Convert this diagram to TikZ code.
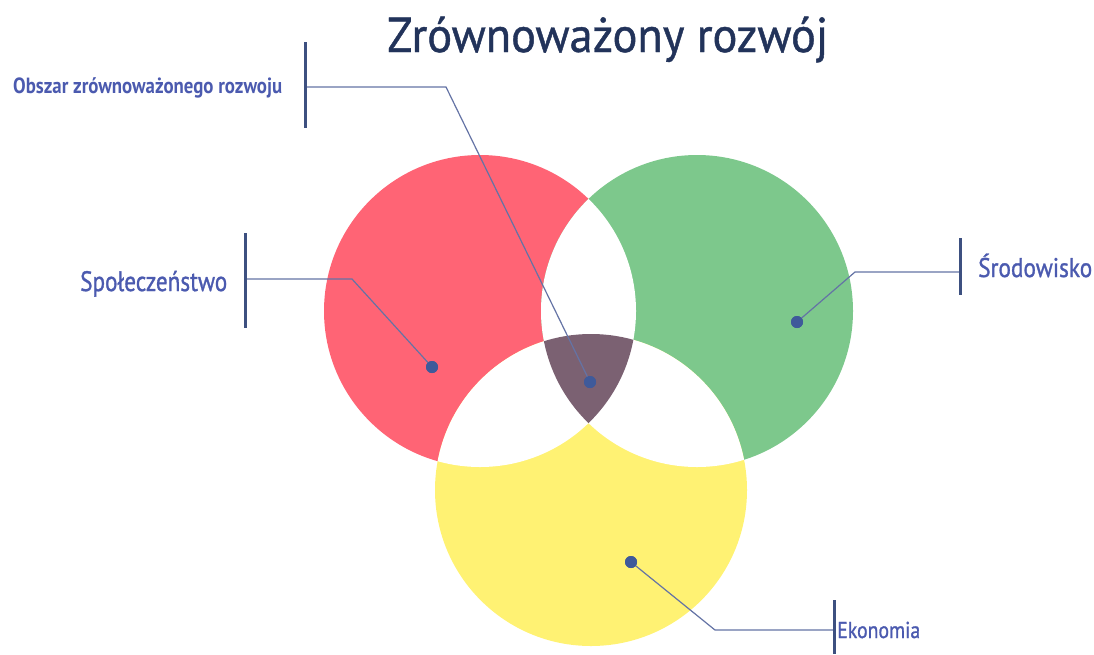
\documentclass[tikz,border=0pt]{standalone}
\usepackage{fontspec}
\setmainfont{PT Sans}
\newfontfamily\titlefont[FakeBold=0.9]{PT Sans}
\newfontfamily\medfont[FakeBold=1.2]{PT Sans}
\usepackage{graphicx}
\definecolor{redc}{RGB}{255,100,117}
\definecolor{greenc}{RGB}{125,200,140}
\definecolor{yellowc}{RGB}{255,242,115}
\definecolor{purplec}{RGB}{123,97,114}
\definecolor{labelc}{RGB}{75,90,175}
\definecolor{titlec}{RGB}{34,51,90}
\definecolor{barc}{RGB}{61,80,128}
\definecolor{connc}{RGB}{100,115,165}
\definecolor{dotc}{RGB}{63,90,154}
\begin{document}
\begin{tikzpicture}[x=1pt,y=-1pt,
  bar/.style={draw=barc,line width=3pt},
  conn/.style={draw=connc,line width=1.2pt},
  dot/.style={circle,fill=dotc,inner sep=0pt,minimum size=12pt},
  lbl/.style={text=labelc,inner sep=0pt,anchor=base west},
  ttl/.style={text=titlec,inner sep=0pt,anchor=base west}]
\useasboundingbox (0,0) rectangle (1094,654);
% circle centres
\coordinate (cR) at (480,311);
\coordinate (cG) at (697,311);
\coordinate (cY) at (591,490);
\def\rad{156}
% fills
\fill[redc] (cR) circle[radius=\rad];
\fill[greenc] (cG) circle[radius=\rad];
\fill[yellowc] (cY) circle[radius=\rad];
\begin{scope}
  \clip (cR) circle[radius=\rad];
  \fill[white] (cG) circle[radius=\rad];
  \fill[white] (cY) circle[radius=\rad];
\end{scope}
\begin{scope}
  \clip (cG) circle[radius=\rad];
  \fill[white] (cY) circle[radius=\rad];
\end{scope}
\begin{scope}
  \clip (cR) circle[radius=\rad];
  \clip (cG) circle[radius=\rad];
  \fill[purplec] (cY) circle[radius=\rad];
\end{scope}
% title
\node[ttl] (title) at (387,52) {\resizebox{441pt}{\height}{\titlefont\fontsize{49}{54}\selectfont Zrównoważony rozwój}};
% labels
\node[lbl] (lO) at (13,93) {\resizebox{269pt}{\height}{\fontsize{22}{26}\selectfont\bfseries Obszar zrównoważonego rozwoju}};
\node[lbl] (lS) at (80,291) {\resizebox{147pt}{\height}{\medfont\fontsize{28}{32}\selectfont Społeczeństwo}};
\node[lbl] (lG) at (978,277) {\resizebox{114pt}{\height}{\medfont\fontsize{27}{32}\selectfont Środowisko}};
\node[lbl] (lE) at (837,638) {\resizebox{83pt}{\height}{\medfont\fontsize{23}{27}\selectfont Ekonomia}};
% dots
\node[dot] (dR) at (432,367) {};
\node[dot] (dP) at (590,382) {};
\node[dot] (dG) at (797,322) {};
\node[dot] (dY) at (631,562) {};
% bars
\coordinate (bOt) at (305,42);  \coordinate (bOb) at (305,128); \coordinate (bO) at (305,87);
\coordinate (bSt) at (245,233); \coordinate (bSb) at (245,328); \coordinate (bS) at (245,279);
\coordinate (bGt) at (960,238); \coordinate (bGb) at (960,295); \coordinate (bG) at (960,272);
\coordinate (bEt) at (834,600); \coordinate (bEb) at (834,654); \coordinate (bE) at (834,630);
% elbows
\coordinate (eO) at (446,87);
\coordinate (eS) at (352,279);
\coordinate (eG) at (855,272);
\coordinate (eE) at (715,630);
% connectors
\draw[conn] (bO) -- (eO) -- (dP.center);
\draw[conn] (bS) -- (eS) -- (dR.center);
\draw[conn] (bG) -- (eG) -- (dG.center);
\draw[conn] (bE) -- (eE) -- (dY.center);
\node[dot] at (dR) {};
\node[dot] at (dP) {};
\node[dot] at (dG) {};
\node[dot] at (dY) {};
\draw[bar] (bOt) -- (bOb);
\draw[bar] (bSt) -- (bSb);
\draw[bar] (bGt) -- (bGb);
\draw[bar] (bEt) -- (bEb);
\end{tikzpicture}
\end{document}
